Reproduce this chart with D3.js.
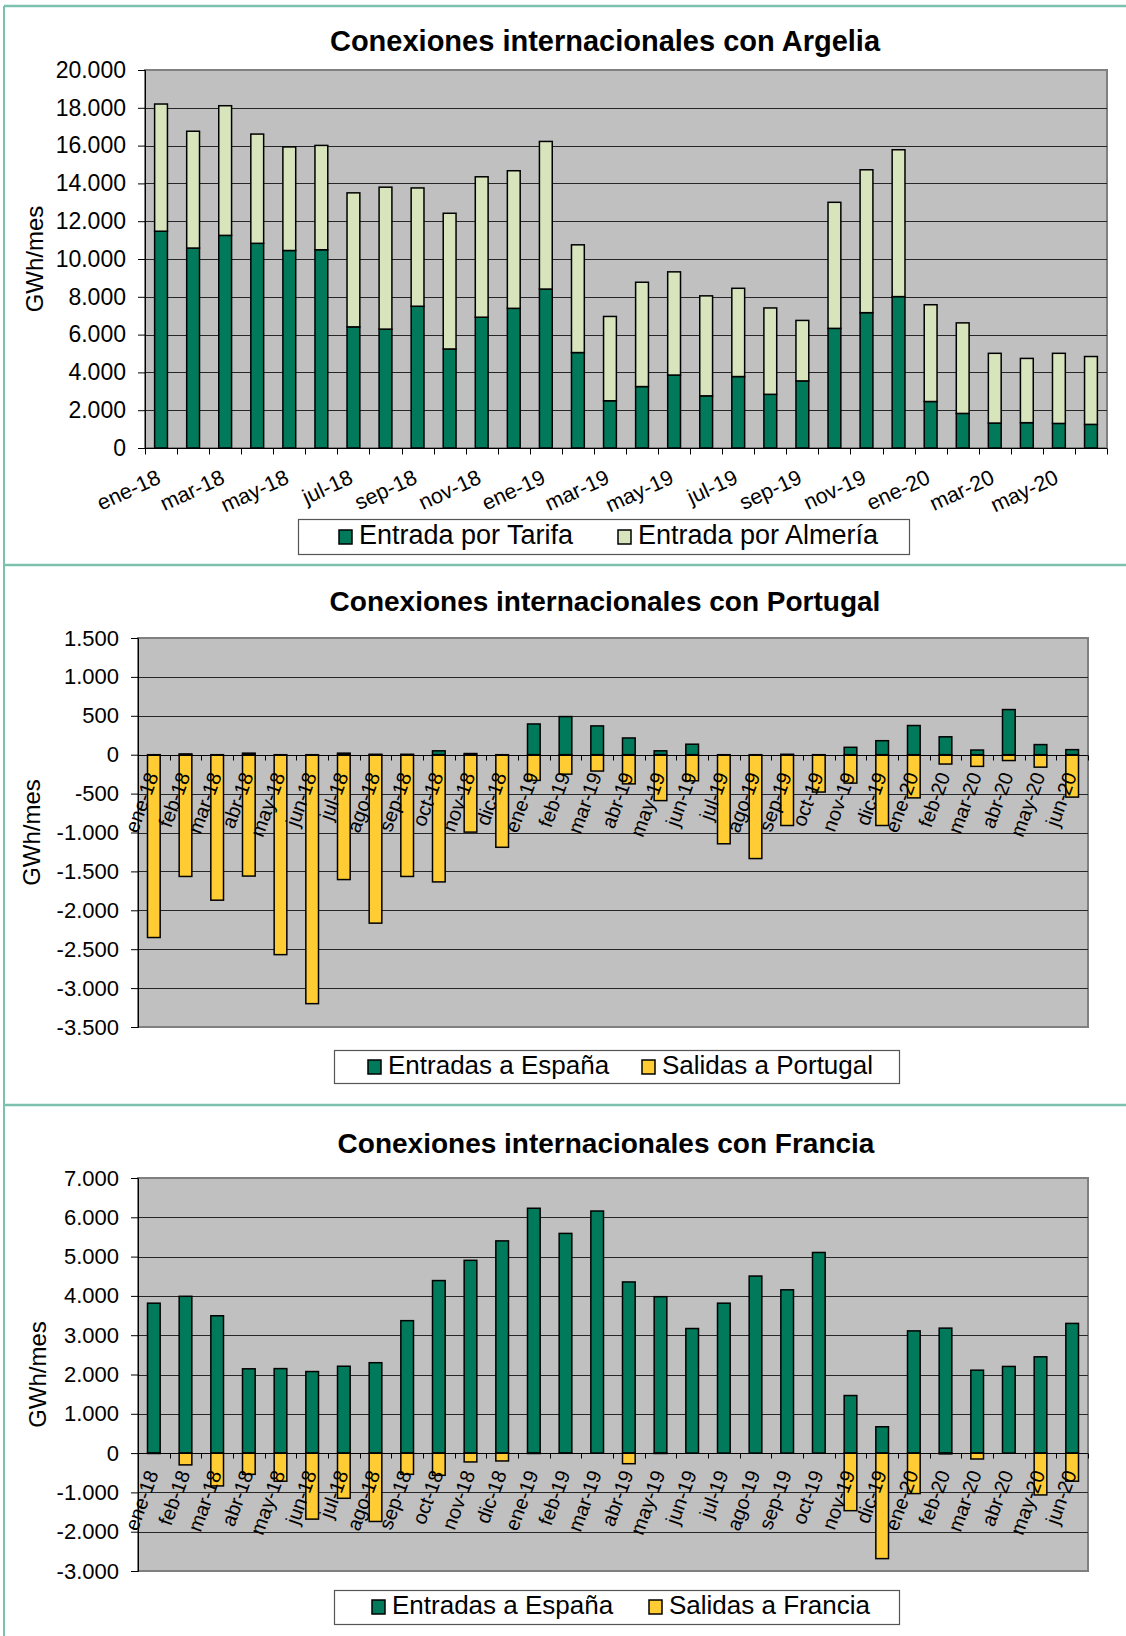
<!DOCTYPE html>
<html>
<head>
<meta charset="utf-8">
<script src="https://cdn.jsdelivr.net/npm/d3@7"></script>
<style>
  body { margin: 0; background: #fff; }
  svg text { font-family: "Liberation Sans", Arial, sans-serif; fill: #000; }
</style>
</head>
<body>
<div id="chart"></div>
<script>
// Data ######################################################
var months = ["ene-18", "feb-18", "mar-18", "abr-18", "may-18", "jun-18",
  "jul-18", "ago-18", "sep-18", "oct-18", "nov-18", "dic-18",
  "ene-19", "feb-19", "mar-19", "abr-19", "may-19", "jun-19",
  "jul-19", "ago-19", "sep-19", "oct-19", "nov-19", "dic-19",
  "ene-20", "feb-20", "mar-20", "abr-20", "may-20", "jun-20"];

// Argelia (GWh/mes)
var argeliaTarifa = [11470, 10580, 11250, 10830, 10450, 10490, 6410, 6290, 7500, 5240,
  6920, 7390, 8410, 5050, 2500, 3250, 3860, 2760, 3780, 2840,
  3550, 6330, 7160, 8010, 2460, 1830, 1320, 1340, 1300, 1250];
var argeliaAlmeria = [6730, 6180, 6860, 5780, 5480, 5520, 7090, 7510, 6260, 7180,
  7430, 7280, 7810, 5700, 4460, 5520, 5460, 5290, 4670, 4570,
  3200, 6670, 7560, 7770, 5120, 4790, 3690, 3400, 3710, 3590];
var argeliaTicks = [0, 2000, 4000, 6000, 8000, 10000, 12000, 14000, 16000, 18000, 20000];

// Portugal
var portugalEntradas = [0, 10, 0, 20, 0, 0, 20, 5, 5, 50, 15, 0, 395, 490, 370,
  215, 50, 135, 0, 0, 5, 0, 95, 180, 375, 230, 60, 580, 130, 65];
var portugalSalidas = [-2350, -1565, -1870, -1560, -2570, -3200, -1605, -2165, -1565, -1635,
  -995, -1190, -330, -250, -210, -375, -590, -335, -1145, -1335,
  -910, -480, -365, -910, -555, -120, -150, -75, -160, -545];
var portugalTicks = [-3500, -3000, -2500, -2000, -1500, -1000, -500, 0, 500, 1000, 1500];

// Francia
var franciaEntradas = [3815, 3990, 3495, 2145, 2150, 2075, 2210, 2300, 3370, 4390,
  4905, 5400, 6230, 5590, 6160, 4355, 3980, 3170, 3815, 4505,
  4155, 5105, 1465, 670, 3110, 3180, 2110, 2205, 2450, 3300];
var franciaSalidas = [-10, -300, -835, -540, -715, -1680, -1150, -1740, -540, -565,
  -225, -200, -10, -5, 0, -270, -10, 0, 0, 0,
  0, 0, -1465, -2685, -1030, -20, -150, 0, -1065, -715];
var franciaTicks = [-3000, -2000, -1000, 0, 1000, 2000, 3000, 4000, 5000, 6000, 7000];

// Colours
var darkGreen = "#007a5a";
var lightGreen = "#d8e4bc";
var yellow = "#ffcc33";
var frameColor = "#7cc1ad";

// SVG ########################################################
var width = 1126;
var height = 1636;

var svg = d3.select("#chart")
  .append("svg")
  .attr("width", width)
  .attr("height", height);

// spanish number format: 20.000 / -3.000
var es = d3.formatLocale({decimal: ",", thousands: ".", grouping: [3], currency: ["", " €"], minus: "-"});
var fmt = es.format(",.0f");

// Frame lines round the three panels
svg.append("line").attr("x1", 4).attr("x2", 4).attr("y1", 6).attr("y2", height)
  .attr("stroke", frameColor).attr("stroke-width", 2);
[6, 565, 1105].forEach(function(yy) {
  svg.append("line").attr("x1", 4).attr("x2", width).attr("y1", yy).attr("y2", yy)
    .attr("stroke", frameColor).attr("stroke-width", 2.5);
});

// ############################################################
// One bar chart panel
// ############################################################
function drawPanel(p) {
  var g = svg.append("g");

  var x = d3.scaleBand().domain(months).range([p.left, p.right]).paddingInner(0).paddingOuter(0);
  var y = d3.scaleLinear().domain(p.domain).range([p.bottom, p.top]);

  var rows = months.map(function(m, i) {
    return {month: m, a: p.series[0].values[i], b: p.series[1].values[i]};
  });
  var stacked = d3.stack().keys(["a", "b"]).offset(d3.stackOffsetDiverging)(rows);

  // title
  g.append("text")
    .attr("x", p.titleX)
    .attr("y", p.titleY)
    .attr("text-anchor", "middle")
    .attr("font-size", p.titleSize)
    .attr("font-weight", "bold")
    .text(p.title);

  // plot background
  g.append("rect")
    .attr("x", p.left).attr("y", p.top)
    .attr("width", p.right - p.left).attr("height", p.bottom - p.top)
    .attr("fill", "#c0c0c0")
    .attr("stroke", "#808080")
    .attr("stroke-width", 2);

  // gridlines
  g.selectAll(".grid")
    .data(p.ticks.filter(function(t) { return t !== p.domain[0] && t !== p.domain[1] && t !== 0; }))
    .enter().append("line")
    .attr("x1", p.left).attr("x2", p.right)
    .attr("y1", function(d) { return Math.round(y(d)) + 0.5; })
    .attr("y2", function(d) { return Math.round(y(d)) + 0.5; })
    .attr("stroke", "#262626")
    .attr("stroke-width", 1);

  // bars
  var bw = x.bandwidth() * 0.4;
  stacked.forEach(function(layer, k) {
    g.selectAll(".bar" + k)
      .data(layer)
      .enter().append("rect")
      .attr("x", function(d) { return x(d.data.month) + (x.bandwidth() - bw) / 2; })
      .attr("y", function(d) { return y(Math.max(d[0], d[1])); })
      .attr("width", bw)
      .attr("height", function(d) { return Math.abs(y(d[0]) - y(d[1])); })
      .attr("fill", p.series[k].color)
      .attr("stroke", "#000")
      .attr("stroke-width", 1.5);
  });

  // y axis
  var yAxis = d3.axisLeft(y).tickValues(p.ticks).tickFormat(fmt).tickSize(7).tickPadding(12);
  var ya = g.append("g")
    .attr("transform", "translate(" + p.left + ",0)")
    .call(yAxis);
  ya.select(".domain").attr("stroke", "#000");
  ya.selectAll("text")
    .attr("font-size", p.tickSize)
    .attr("font-family", "'Liberation Sans', Arial, sans-serif");

  // x axis line at zero + ticks at band edges
  var y0 = Math.round(y(0)) + 0.5;
  g.append("line")
    .attr("x1", p.left).attr("x2", p.right)
    .attr("y1", y0).attr("y2", y0)
    .attr("stroke", "#000");
  var edges = months.map(function(m) { return x(m); }).concat([p.right]);
  g.selectAll(".xtick")
    .data(edges)
    .enter().append("line")
    .attr("x1", function(d) { return Math.round(d) + 0.5; })
    .attr("x2", function(d) { return Math.round(d) + 0.5; })
    .attr("y1", y0).attr("y2", y0 + p.xTickLen)
    .attr("stroke", "#000");

  // month labels
  var labelled = months.filter(function(m, i) { return i % p.labelStep === 0; });
  g.selectAll(".xlabel")
    .data(labelled)
    .enter().append("text")
    .attr("text-anchor", "end")
    .attr("font-size", p.labelSize)
    .attr("transform", function(d) {
      var lx = x(d) + x.bandwidth() / 2 + p.labelDx;
      var ly = y0 + p.labelDy;
      return "translate(" + lx + "," + ly + ")rotate(" + p.labelAngle + ")";
    })
    .text(function(d) { return d; });

  // y axis title
  g.append("text")
    .attr("transform", "translate(" + p.yTitleX + "," + ((p.top + p.bottom) / 2) + ")rotate(-90)")
    .attr("text-anchor", "middle")
    .attr("font-size", 24)
    .text("GWh/mes");

  // legend
  var lg = p.legend;
  g.append("rect")
    .attr("x", lg.x0 + 0.5).attr("y", lg.y0 + 0.5)
    .attr("width", lg.x1 - lg.x0).attr("height", lg.y1 - lg.y0)
    .attr("fill", "#fff")
    .attr("stroke", "#555")
    .attr("stroke-width", 1.2);
  p.series.forEach(function(s, k) {
    g.append("rect")
      .attr("x", lg.items[k]).attr("y", lg.base - 14)
      .attr("width", 13).attr("height", 14)
      .attr("fill", s.color)
      .attr("stroke", "#000")
      .attr("stroke-width", 1.5);
    g.append("text")
      .attr("x", lg.items[k] + 20)
      .attr("y", lg.base)
      .attr("font-size", lg.fontSize)
      .text(s.name);
  });
}

// Argelia ###################################################
drawPanel({
  title: "Conexiones internacionales con Argelia",
  titleX: 605, titleY: 51, titleSize: 29,
  left: 145, right: 1107, top: 70, bottom: 448,
  domain: [0, 20000], ticks: argeliaTicks, tickSize: 23,
  series: [
    {name: "Entrada por Tarifa", values: argeliaTarifa, color: darkGreen},
    {name: "Entrada por Almería", values: argeliaAlmeria, color: lightGreen}
  ],
  xTickLen: 6,
  labelStep: 2, labelSize: 21.5, labelAngle: -25, labelDx: 1, labelDy: 34,
  yTitleX: 43,
  legend: {x0: 298, x1: 909, y0: 519, y1: 554, base: 544, items: [339, 618], fontSize: 27}
});

// Portugal ##################################################
drawPanel({
  title: "Conexiones internacionales con Portugal",
  titleX: 605, titleY: 611, titleSize: 28,
  left: 138, right: 1088, top: 638, bottom: 1027,
  domain: [-3500, 1500], ticks: portugalTicks, tickSize: 22,
  series: [
    {name: "Entradas a España", values: portugalEntradas, color: darkGreen},
    {name: "Salidas a Portugal", values: portugalSalidas, color: yellow}
  ],
  xTickLen: 5,
  labelStep: 1, labelSize: 20, labelAngle: -70, labelDx: 5, labelDy: 20,
  yTitleX: 40,
  legend: {x0: 334, x1: 899, y0: 1050, y1: 1083, base: 1074, items: [368, 642], fontSize: 26}
});

// Francia ###################################################
drawPanel({
  title: "Conexiones internacionales con Francia",
  titleX: 606, titleY: 1153, titleSize: 28,
  left: 138, right: 1088, top: 1178, bottom: 1571,
  domain: [-3000, 7000], ticks: franciaTicks, tickSize: 22,
  series: [
    {name: "Entradas a España", values: franciaEntradas, color: darkGreen},
    {name: "Salidas a Francia", values: franciaSalidas, color: yellow}
  ],
  xTickLen: 5,
  labelStep: 1, labelSize: 20, labelAngle: -70, labelDx: 5, labelDy: 20,
  yTitleX: 46,
  legend: {x0: 334, x1: 899, y0: 1590, y1: 1624, base: 1614, items: [372, 649], fontSize: 26}
});
</script>
</body>
</html>
